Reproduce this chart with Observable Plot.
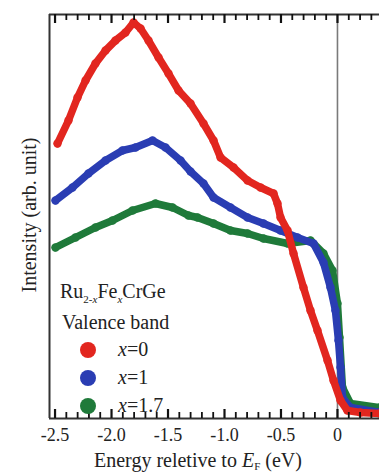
<!DOCTYPE html>
<html>
<head>
<meta charset="utf-8">
<script src="https://cdn.jsdelivr.net/npm/d3@7"></script>
<script src="https://cdn.jsdelivr.net/npm/@observablehq/plot@0.6"></script>
<style>
  html, body { margin: 0; padding: 0; background: #fff; }
  #wrap { position: relative; width: 379px; height: 474px; overflow: hidden; font-family: "Liberation Serif", "DejaVu Serif", serif; color: #222; }
  .t { position: absolute; white-space: nowrap; font-family: "Liberation Serif", serif; }
</style>
</head>
<body>
<div id="wrap"></div>
<script>
// Energy (eV) relative to E_F, and intensity (arb. unit)
const redE = [-2.478,-2.381,-2.301,-2.230,-2.142,-2.053,-1.965,-1.876,-1.805,-1.743,-1.673,-1.584,-1.496,-1.407,-1.301,-1.186,-1.097,-1.035,-0.920,-0.796,-0.681,-0.566,-0.531,-0.504,-0.442,-0.389,-0.301,-0.239,-0.177,-0.088,-0.035,0.027,0.088,0.204,0.372];
const redI = [2.75,2.98,3.21,3.38,3.55,3.68,3.78,3.86,3.96,3.90,3.78,3.61,3.45,3.28,3.15,2.95,2.78,2.61,2.51,2.38,2.31,2.25,2.15,2.01,1.88,1.65,1.31,1.08,0.88,0.58,0.38,0.18,0.08,0.06,0.05];

const blueE = [-2.496,-2.345,-2.204,-2.053,-1.903,-1.788,-1.637,-1.522,-1.389,-1.301,-1.186,-1.097,-0.947,-0.796,-0.655,-0.504,-0.354,-0.212,-0.124,-0.062,-0.018,0.009,0.027,0.044,0.115,0.372];
const blueI = [2.18,2.31,2.45,2.58,2.68,2.71,2.78,2.71,2.58,2.47,2.35,2.21,2.11,2.01,1.95,1.88,1.81,1.75,1.56,1.31,1.08,0.78,0.51,0.21,0.11,0.06];

const greenE = [-2.496,-2.319,-2.142,-1.991,-1.814,-1.611,-1.460,-1.319,-1.239,-1.097,-0.947,-0.796,-0.655,-0.442,-0.239,-0.124,-0.044,0.000,0.018,0.044,0.115,0.372];
const greenI = [1.71,1.81,1.91,1.98,2.08,2.15,2.11,2.03,2.01,1.95,1.88,1.85,1.80,1.75,1.78,1.65,1.48,1.15,0.81,0.31,0.15,0.11];

const seriesNames = ["x=0", "x=1", "x=1.7"];
const seriesColors = ["#e2261f", "#2a3db3", "#1f7a3a"];

const majorTicks = [-2.5, -2.0, -1.5, -1.0, -0.5, 0];
const minorTicks = d3.range(-25, 4).map(i => i / 10).filter(v => !majorTicks.some(m => Math.abs(m - v) < 1e-9));

const xDomain = [-2.549, 0.372];
const yDomain = [0, 4.04];

const W = 379, H = 474, mL = 49, mR = 0, mT = 14, mB = 56;
const frameH = H - mT - mB;
const perPx = (yDomain[1] - yDomain[0]) / frameH; // data units per pixel (for tick lengths)

const toRows = (E, I, name) => E.map((e, i) => ({energy: e, intensity: I[i], series: name}));
const red = toRows(redE, redI, seriesNames[0]);
const blue = toRows(blueE, blueI, seriesNames[1]);
const green = toRows(greenE, greenI, seriesNames[2]);

const seriesMarks = (rows, color) => [
  Plot.line(rows, {x: "energy", y: "intensity", stroke: color, strokeWidth: 7.5, strokeLinecap: "round", strokeLinejoin: "round"}),
  Plot.dot(rows, {x: "energy", y: "intensity", fill: color, r: 4.2})
];

const tickRows = (vals, len) => vals.flatMap(v => [
  {x: v, y1: yDomain[1], y2: yDomain[1] - len * perPx},
  {x: v, y1: yDomain[0], y2: yDomain[0] + len * perPx}
]);

const chart = Plot.plot({
  width: W,
  height: H,
  marginLeft: mL,
  marginRight: mR,
  marginTop: mT,
  marginBottom: mB,
  style: {background: "transparent", fontFamily: "'Liberation Serif', serif"},
  x: {domain: xDomain},
  y: {domain: yDomain},
  marks: [
    Plot.ruleX([0], {stroke: "#7a7a7a", strokeWidth: 1.6}),
    ...seriesMarks(green, seriesColors[2]),
    ...seriesMarks(blue, seriesColors[1]),
    ...seriesMarks(red, seriesColors[0]),
    Plot.ruleX([xDomain[0]], {stroke: "#333", strokeWidth: 2}),
    Plot.ruleY([yDomain[0], yDomain[1]], {stroke: "#333", strokeWidth: 2}),
    Plot.ruleX(tickRows(majorTicks, 9), {x: "x", y1: "y1", y2: "y2", stroke: "#111", strokeWidth: 2.2}),
    Plot.ruleX(tickRows(minorTicks, 6), {x: "x", y1: "y1", y2: "y2", stroke: "#111", strokeWidth: 1.8}),
    Plot.axisX(majorTicks, {anchor: "bottom", tickSize: 0, tickPadding: 10, fontSize: 18, fontFamily: "'Liberation Serif', serif", fill: "#222", tickFormat: d => d === 0 ? "0" : d.toFixed(1), label: null}),
    Plot.axisY({ticks: [], label: null, tickSize: 0})
  ]
});

const wrap = document.getElementById("wrap");
wrap.appendChild(chart);

function addText(html, styles) {
  const d = document.createElement("div");
  d.className = "t";
  d.innerHTML = html;
  Object.assign(d.style, styles);
  wrap.appendChild(d);
  return d;
}

// axis titles
addText('Energy reletive to <i>E</i><span style="font-size:11px;position:relative;top:3px">F</span> (eV)', {left: "94px", top: "450px", fontSize: "20px", lineHeight: "20px"});
addText('Intensity (arb. unit)', {left: "29px", top: "215px", fontSize: "20px", lineHeight: "20px", transform: "translate(-50%,-50%) rotate(-90deg)"});

// legend
addText('Ru<sub style="font-size:11px">2-<i>x</i></sub>Fe<sub style="font-size:11px"><i>x</i></sub>CrGe', {left: "60px", top: "281px", fontSize: "20px", lineHeight: "20px"});
addText('Valence band', {left: "62px", top: "312px", fontSize: "20px", lineHeight: "20px"});
const legY = [350, 378, 406];
seriesNames.forEach((name, i) => {
  const dot = document.createElement("div");
  Object.assign(dot.style, {position: "absolute", left: (88 - 8) + "px", top: (legY[i] - 8) + "px", width: "16px", height: "16px", borderRadius: "50%", background: seriesColors[i]});
  wrap.appendChild(dot);
  const [a, b] = name.split("=");
  addText('<i>' + a + '</i>=' + b, {left: "118px", top: (legY[i] - 11) + "px", fontSize: "20px", lineHeight: "20px"});
});
</script>
</body>
</html>
